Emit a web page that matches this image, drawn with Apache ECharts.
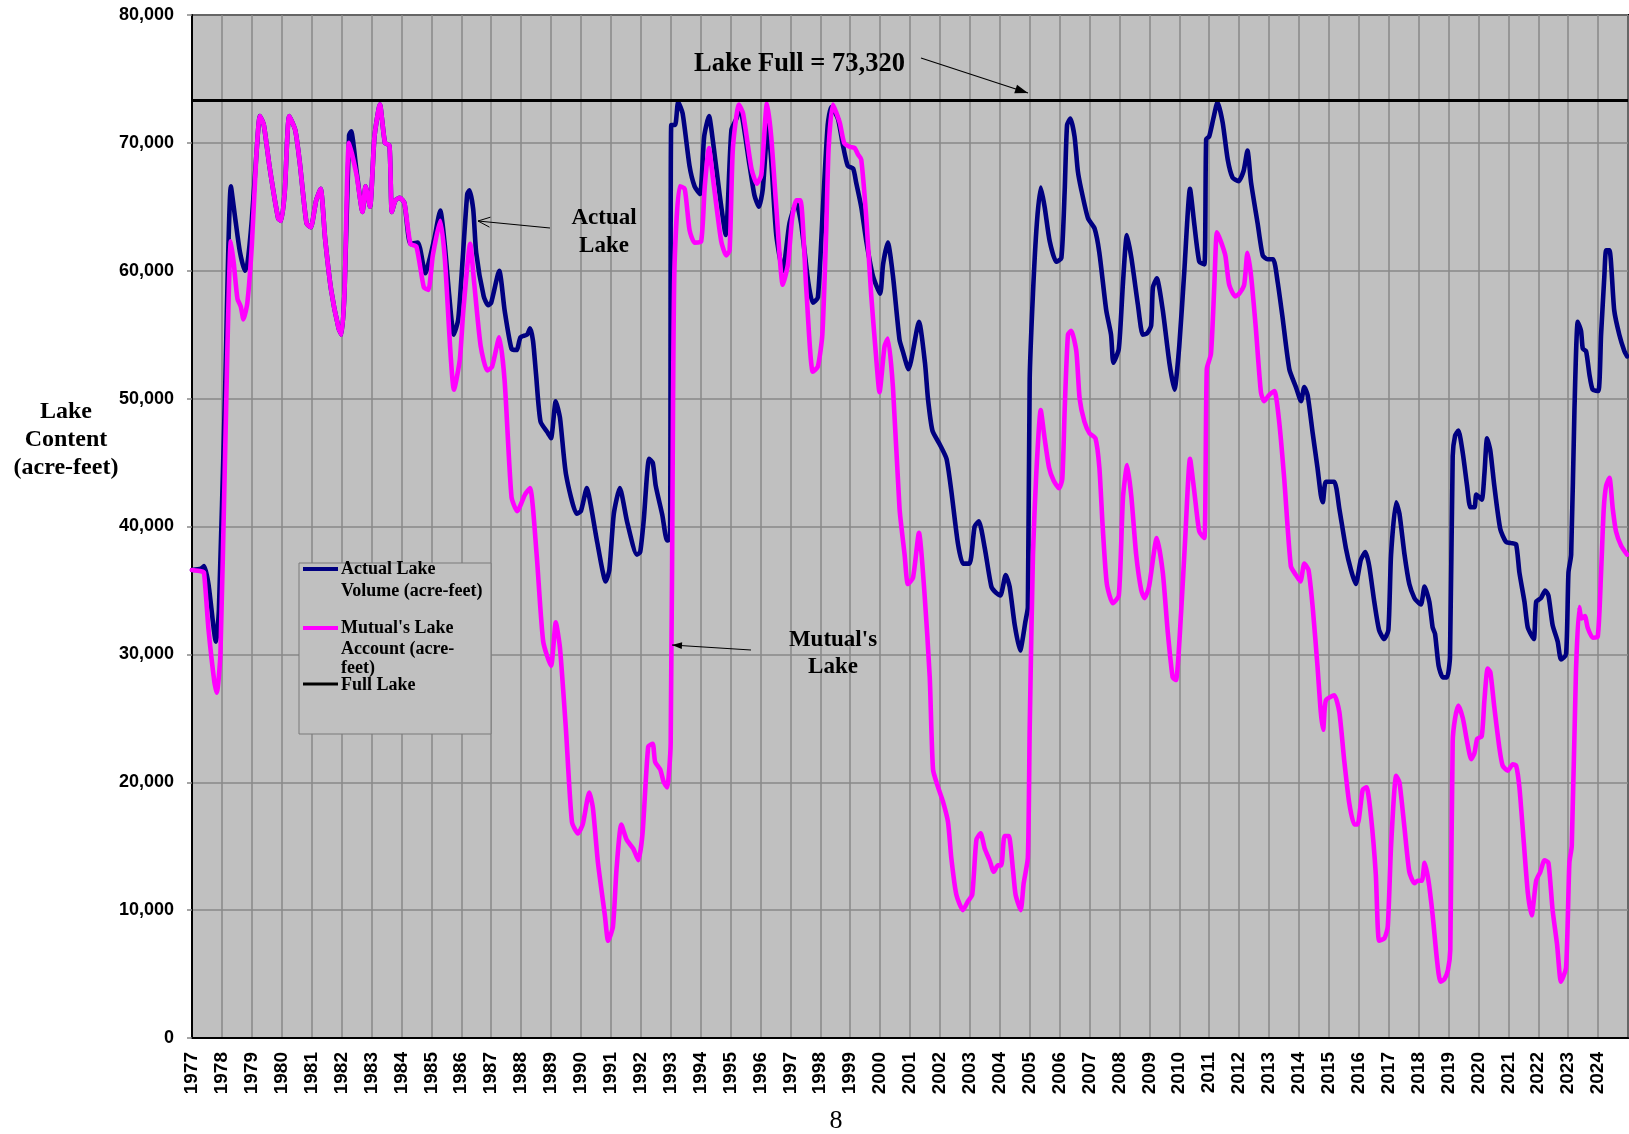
<!DOCTYPE html>
<html>
<head>
<meta charset="utf-8">
<script src="https://cdn.jsdelivr.net/npm/echarts@6/dist/echarts.min.js"></script>
<style>
html,body{margin:0;padding:0;background:#fff;}
#chart{width:1629px;height:1134px;}
</style>
</head>
<body>
<div id="chart"></div>
<script>
// ---- DATA (decimal year, acre-feet) ----
const FULL_LAKE = 73320;
const yearStart = 1977, yearEnd = 2025;
const yTicks = [0, 10000, 20000, 30000, 40000, 50000, 60000, 70000, 80000];

const actualLake = [
[1977.0,36600],[1977.3,36700],[1977.4,36900],[1977.55,35500],[1977.8,31000],[1977.9,33500],
[1978.1,50000],[1978.3,66600],[1978.45,64000],[1978.6,61500],[1978.77,60000],[1978.85,60500],
[1979.0,64000],[1979.15,69000],[1979.27,72100],[1979.4,71400],[1979.6,68000],[1979.88,64100],[1979.98,63900],
[1980.1,66200],[1980.25,72100],[1980.45,71000],[1980.6,68500],[1980.83,63700],[1980.97,63400],
[1981.15,65500],[1981.3,66400],[1981.45,62500],[1981.65,58500],[1981.9,55500],[1982.0,55000],
[1982.1,58500],[1982.25,70600],[1982.32,70900],[1982.5,67800],[1982.7,64600],[1982.8,66600],[1982.95,65000],
[1983.1,70500],[1983.28,73000],[1983.45,70000],[1983.6,69800],[1983.68,64600],[1983.8,65500],[1983.95,65700],
[1984.1,65300],[1984.3,62100],[1984.55,62200],[1984.8,59800],[1984.95,61000],
[1985.1,62500],[1985.3,64700],[1985.45,62000],[1985.6,58000],[1985.75,55000],[1985.9,56200],
[1986.05,61000],[1986.2,66000],[1986.27,66300],[1986.4,64800],[1986.5,61400],[1986.75,58000],[1986.9,57300],
[1987.0,57500],[1987.27,60000],[1987.45,56900],[1987.68,53900],[1987.85,53800],[1987.98,54800],
[1988.2,55000],[1988.3,55500],[1988.4,54500],[1988.5,51900],[1988.65,48200],[1988.9,47300],
[1989.0,46900],[1989.16,49800],[1989.3,48500],[1989.5,44100],[1989.86,41000],
[1990.0,41200],[1990.2,43000],[1990.35,41400],[1990.55,38700],[1990.83,35700],[1990.95,36600],
[1991.1,41000],[1991.3,43000],[1991.55,40300],[1991.87,37800],[1991.98,38000],
[1992.1,40500],[1992.28,45300],[1992.4,45000],[1992.5,43200],[1992.72,40900],[1992.88,38900],[1992.98,39000],
[1993.02,71400],[1993.15,71400],[1993.25,73200],[1993.4,72300],[1993.63,68200],[1993.8,66600],[1993.98,66000],
[1994.12,70500],[1994.28,72100],[1994.42,70000],[1994.64,65900],[1994.84,62800],
[1995.03,71000],[1995.2,71900],[1995.3,72800],[1995.64,68200],[1995.8,65900],[1995.95,65000],
[1996.08,66400],[1996.25,71400],[1996.36,68700],[1996.53,62800],[1996.75,60000],[1996.97,63700],
[1997.2,65300],[1997.36,63700],[1997.6,59100],[1997.75,57500],[1997.92,57900],
[1998.09,65000],[1998.25,71400],[1998.37,72800],[1998.59,71900],[1998.76,69800],[1998.92,68200],
[1999.1,68000],[1999.2,66900],[1999.37,65000],[1999.54,62300],[1999.76,59600],
[2000.0,58200],[2000.1,60500],[2000.26,62200],[2000.43,59600],[2000.65,54600],[2000.76,53700],[2000.95,52300],
[2001.3,56000],[2001.5,52800],[2001.6,50000],[2001.75,47500],
[2002.0,46400],[2002.22,45300],[2002.38,42800],[2002.6,38700],[2002.77,37100],[2002.99,37100],
[2003.16,40000],[2003.3,40400],[2003.5,38300],[2003.72,35300],[2003.88,34800],
[2004.02,34600],[2004.2,36200],[2004.33,35300],[2004.5,32300],[2004.68,30300],[2004.86,32600],[2004.94,33700],
[2005.0,51400],[2005.11,58200],[2005.24,63700],[2005.37,66500],[2005.5,65000],[2005.67,62300],[2005.89,60700],
[2006.06,61000],[2006.17,66200],[2006.25,71400],[2006.36,71900],[2006.5,70500],[2006.61,67800],[2006.72,66400],[2006.95,64100],
[2007.17,63300],[2007.33,61400],[2007.56,56900],[2007.72,55000],[2007.8,52800],[2007.98,53900],
[2008.12,59100],[2008.25,62800],[2008.4,61000],[2008.62,57300],[2008.78,55000],[2008.92,55100],
[2009.06,55700],[2009.12,58700],[2009.25,59400],[2009.45,56900],[2009.67,52800],[2009.84,50700],
[2010.0,54100],[2010.17,60000],[2010.36,66400],[2010.5,63700],[2010.67,60700],[2010.84,60500],
[2010.9,70300],[2011.0,70500],[2011.14,71900],[2011.28,73200],[2011.45,71600],[2011.62,68700],[2011.78,67300],[2011.98,67000],
[2012.15,67800],[2012.28,69400],[2012.4,66900],[2012.62,63700],[2012.79,61200],[2012.95,60900],
[2013.14,60900],[2013.29,59100],[2013.45,56400],[2013.68,52300],[2013.9,50900],
[2014.07,49800],[2014.18,50900],[2014.29,50300],[2014.46,47300],[2014.62,44600],[2014.73,42500],[2014.8,41900],[2014.9,43500],
[2015.18,43500],[2015.35,41400],[2015.57,38300],[2015.74,36600],[2015.9,35500],
[2016.07,37400],[2016.22,38000],[2016.35,36900],[2016.52,34100],[2016.68,31900],[2016.85,31200],[2016.99,31900],
[2017.08,37800],[2017.25,41900],[2017.36,41000],[2017.53,37800],[2017.69,35500],[2017.86,34400],[2017.97,34100],
[2018.08,33900],[2018.2,35300],[2018.36,34100],[2018.47,32100],[2018.55,31600],[2018.67,29100],[2018.81,28200],[2018.95,28200],
[2019.05,29800],[2019.14,45500],[2019.22,47100],[2019.33,47500],[2019.48,45700],[2019.62,43200],[2019.73,41500],[2019.87,41500],[2019.93,42500],
[2020.11,42100],[2020.2,44100],[2020.29,46900],[2020.4,45900],[2020.53,43200],[2020.73,39800],[2020.92,38800],
[2021.09,38700],[2021.26,38600],[2021.37,36400],[2021.54,34100],[2021.65,32100],[2021.85,31200],[2021.93,34100],
[2022.09,34400],[2022.23,35000],[2022.34,34600],[2022.48,32300],[2022.65,31000],[2022.76,29600],[2022.93,30000],
[2023.01,36400],[2023.1,37800],[2023.21,49100],[2023.32,56000],[2023.43,55300],[2023.49,53900],[2023.6,53700],[2023.71,51900],[2023.82,50700],
[2024.01,50600],[2024.1,55000],[2024.21,59600],[2024.27,61600],[2024.38,61600],[2024.54,56900],[2024.71,55000],[2024.88,53700],[2024.97,53300]
];

const mutualAccount = [
[1977.0,36600],[1977.3,36500],[1977.4,36400],[1977.55,32000],[1977.75,27800],[1977.83,27000],[1977.95,30000],
[1978.1,45000],[1978.3,62300],[1978.4,60500],[1978.52,57800],[1978.63,57200],[1978.72,56200],[1978.85,57500],
[1979.0,62000],[1979.15,69000],[1979.27,72100],[1979.4,71400],[1979.6,68000],[1979.88,64100],[1979.98,63900],
[1980.1,66200],[1980.25,72100],[1980.45,71000],[1980.6,68500],[1980.83,63700],[1980.97,63400],
[1981.15,65500],[1981.3,66400],[1981.45,62500],[1981.65,58500],[1981.9,55500],[1982.0,55000],
[1982.1,58500],[1982.25,70000],[1982.5,67500],[1982.7,64600],[1982.8,66600],[1982.95,65000],
[1983.1,70500],[1983.28,73000],[1983.45,70000],[1983.6,69800],[1983.68,64600],[1983.8,65500],[1983.95,65700],
[1984.1,65300],[1984.3,62100],[1984.5,61900],[1984.75,58700],[1984.9,58500],
[1985.05,61200],[1985.3,63900],[1985.45,61000],[1985.76,50700],[1985.95,53000],
[1986.07,56900],[1986.3,62100],[1986.43,59100],[1986.65,54100],[1986.87,52200],
[1987.03,52500],[1987.27,54800],[1987.45,51400],[1987.68,42300],[1987.87,41200],
[1988.13,42500],[1988.3,43000],[1988.52,37800],[1988.74,31000],
[1989.0,29100],[1989.16,32500],[1989.3,30500],[1989.5,24100],[1989.7,16900],[1989.9,16000],
[1990.06,16700],[1990.28,19200],[1990.4,18000],[1990.57,13700],[1990.8,9600],[1990.91,7600],
[1991.07,8700],[1991.19,13200],[1991.35,16700],[1991.53,15500],[1991.75,14800],[1991.92,13900],
[1992.06,16000],[1992.25,22800],[1992.4,23000],[1992.48,21600],[1992.65,21000],[1992.77,20000],[1992.88,19600],
[1993.0,23000],[1993.08,50000],[1993.13,60500],[1993.3,66600],[1993.47,66400],[1993.63,63200],[1993.8,62200],
[1994.02,62300],[1994.14,66600],[1994.28,69600],[1994.41,67300],[1994.69,62300],[1994.86,61200],[1994.97,61600],
[1995.08,69600],[1995.28,73000],[1995.42,72300],[1995.7,68000],[1995.88,66800],
[1996.03,67500],[1996.22,73100],[1996.36,70500],[1996.53,65000],[1996.75,58900],[1996.92,60500],
[1997.06,64100],[1997.2,65500],[1997.34,65500],[1997.53,58700],[1997.75,52100],[1997.92,52500],
[1998.07,55000],[1998.2,63200],[1998.28,69600],[1998.42,73000],[1998.65,71600],[1998.8,70000],[1998.98,69700],
[1999.15,69600],[1999.26,69100],[1999.37,68700],[1999.54,64100],[1999.7,58200],[1999.87,53200],[1999.98,50500],
[2000.15,54100],[2000.26,54700],[2000.43,50900],[2000.65,41400],[2000.82,37800],[2000.93,35500],
[2001.1,36000],[2001.3,39500],[2001.49,34600],[2001.66,28200],[2001.77,21000],[2001.94,19600],
[2002.1,18500],[2002.27,16900],[2002.38,14100],[2002.55,11200],[2002.77,10000],[2002.94,10700],
[2003.08,11200],[2003.22,15500],[2003.36,16000],[2003.5,14800],[2003.66,13900],[2003.8,13000],[2003.94,13500],
[2004.05,13500],[2004.16,15800],[2004.3,15800],[2004.44,13200],[2004.53,11200],[2004.7,10000],[2004.8,12100],[2004.94,14100],
[2005.0,24100],[2005.11,37800],[2005.22,44100],[2005.37,49100],[2005.5,46900],[2005.65,44600],[2005.8,43600],[2005.98,43000],
[2006.09,43700],[2006.17,49100],[2006.28,55000],[2006.39,55300],[2006.56,53700],[2006.67,50000],[2006.83,48200],
[2007.0,47300],[2007.2,46900],[2007.33,44600],[2007.44,40000],[2007.58,35500],[2007.78,34000],[2007.98,34600],
[2008.12,42300],[2008.26,44800],[2008.4,42300],[2008.56,37800],[2008.73,35000],[2008.84,34400],[2008.99,35300],
[2009.25,39100],[2009.45,36400],[2009.61,31900],[2009.78,28200],[2009.89,28000],
[2010.06,33200],[2010.2,39100],[2010.36,45300],[2010.5,42800],[2010.67,39600],[2010.84,39100],
[2010.92,52300],[2011.06,53500],[2011.17,58700],[2011.26,63000],[2011.39,62300],[2011.54,61200],[2011.67,58900],[2011.87,58000],
[2012.0,58200],[2012.17,58900],[2012.28,61400],[2012.4,59600],[2012.56,55500],[2012.73,50500],[2012.84,49800],
[2013.01,50300],[2013.18,50600],[2013.34,48200],[2013.51,43700],[2013.73,36900],[2013.9,36200],
[2014.05,35700],[2014.18,37100],[2014.32,36600],[2014.46,33700],[2014.62,29100],[2014.73,25500],[2014.81,24100],[2014.9,26400],
[2015.18,26800],[2015.35,25500],[2015.51,21800],[2015.68,18400],[2015.85,16700],[2015.96,16700],
[2016.13,19400],[2016.26,19600],[2016.41,17300],[2016.57,12800],[2016.68,7600],[2016.86,7800],[2016.97,8700],
[2017.08,15000],[2017.25,20500],[2017.36,20000],[2017.53,16400],[2017.69,13000],[2017.86,12100],[2017.97,12300],
[2018.11,12300],[2018.2,13700],[2018.33,12300],[2018.47,9600],[2018.62,6000],[2018.73,4400],[2018.86,4600],[2018.98,5300],
[2019.06,6900],[2019.14,23200],[2019.22,25000],[2019.33,26000],[2019.48,25000],[2019.62,23200],[2019.76,21800],[2019.87,22300],[2019.96,23400],
[2020.11,23600],[2020.2,26400],[2020.31,28900],[2020.4,28600],[2020.53,25900],[2020.7,22700],[2020.81,21300],[2020.98,20900],
[2021.15,21400],[2021.26,21300],[2021.37,19600],[2021.51,15500],[2021.65,11400],[2021.78,9600],[2021.93,12300],
[2022.07,13000],[2022.21,13900],[2022.34,13700],[2022.48,10000],[2022.63,7300],[2022.76,4400],[2022.93,5500],
[2023.04,13700],[2023.12,15000],[2023.26,28600],[2023.37,33700],[2023.45,32800],[2023.56,33000],[2023.65,32100],[2023.82,31300],
[2023.99,31400],[2024.1,36400],[2024.19,41400],[2024.27,43200],[2024.38,43800],[2024.49,41400],[2024.6,39600],[2024.77,38500],[2024.97,37800]
];

const fullLakeLine = [[yearStart, FULL_LAKE], [yearEnd, FULL_LAKE]];

const seriesNames = ["Actual Lake Volume (acre-feet)", "Mutual's Lake Account (acre-feet)", "Full Lake"];

// ---- CHART ----
const SERIF = '"Liberation Serif", "Times New Roman", serif';
const SANS = '"Liberation Sans", Arial, sans-serif';
const chart = echarts.init(document.getElementById('chart'), null, {renderer: 'canvas'});

function arrowHead(tip, from, len, half, filled) {
  const dx = tip[0] - from[0], dy = tip[1] - from[1];
  const L = Math.sqrt(dx*dx + dy*dy), ux = dx/L, uy = dy/L;
  const bx = tip[0] - ux*len, by = tip[1] - uy*len;
  const p1 = [bx - uy*half, by + ux*half], p2 = [bx + uy*half, by - ux*half];
  if (filled) {
    return {type:'polygon', shape:{points:[tip, p1, p2]}, style:{fill:'#000'}, z:100};
  }
  return {type:'polyline', shape:{points:[p1, tip, p2]}, style:{stroke:'#000', lineWidth:1, fill:null}, z:100};
}
function arrow(from, tip, len, half, filled) {
  return [
    {type:'line', shape:{x1:from[0], y1:from[1], x2:tip[0], y2:tip[1]}, style:{stroke:'#000', lineWidth:1.2}, z:100},
    arrowHead(tip, from, len, half, filled)
  ];
}
function txt(x, y, text, font, align) {
  return {type:'text', z:100, style:{x:x, y:y, text:text, font:font, fill:'#000', align:align||'center', verticalAlign:'middle'}};
}

const titleFont = 'bold 24px ' + SERIF;
const annFont = 'bold 23px ' + SERIF;
const legFont = 'bold 18px ' + SERIF;
const graphics = [].concat(
  [txt(66, 412, 'Lake', titleFont), txt(66, 440, 'Content', titleFont), txt(66, 468, '(acre-feet)', titleFont)],
  [txt(694, 64, 'Lake Full = 73,320', 'bold 26.5px ' + SERIF, 'left')],
  arrow([921, 58], [1028, 93], 13, 4.5, true),
  [txt(604, 218, 'Actual', annFont), txt(604, 246, 'Lake', annFont)],
  arrow([550, 228], [478, 221], 12, 5, false),
  [txt(833, 640, "Mutual's", annFont), txt(833, 667, 'Lake', annFont)],
  arrow([751, 650], [672, 645], 10, 3.5, true),
  [txt(836, 1121, '8', '26px ' + SERIF)],
  [
    {type:'rect', z:90, shape:{x:299, y:563, width:192, height:171}, style:{fill:'#C0C0C0', stroke:'#7a7a7a', lineWidth:1}},
    {type:'line', z:100, shape:{x1:303, y1:569, x2:338, y2:569}, style:{stroke:'#000080', lineWidth:4}},
    {type:'line', z:100, shape:{x1:303, y1:628, x2:338, y2:628}, style:{stroke:'#FF00FF', lineWidth:4}},
    {type:'line', z:100, shape:{x1:303, y1:684, x2:338, y2:684}, style:{stroke:'#000', lineWidth:3}},
    txt(341, 569, 'Actual Lake', legFont, 'left'),
    txt(341, 591, 'Volume (acre-feet)', legFont, 'left'),
    txt(341, 628, "Mutual's Lake", legFont, 'left'),
    txt(341, 649, 'Account (acre-', legFont, 'left'),
    txt(341, 668, 'feet)', legFont, 'left'),
    txt(341, 685, 'Full Lake', legFont, 'left')
  ]
);

chart.setOption({
  animation: false,
  backgroundColor: '#ffffff',
  grid: {left:192, top:15, width:1436, height:1023, show:true, backgroundColor:'#C0C0C0', borderColor:'#000', borderWidth:2, containLabel:false},
  xAxis: {
    type:'value', min:yearStart, max:yearEnd, interval:1,
    axisLine:{show:true, onZero:false, lineStyle:{color:'#000', width:2}},
    axisTick:{show:false},
    splitLine:{show:true, lineStyle:{color:'#888888', width:1.5}},
    axisLabel:{rotate:90, margin:14, fontSize:19, fontWeight:'bold', fontFamily:SANS, color:'#000',
      showMaxLabel:false, formatter:function(v){ return v < yearEnd ? String(v) : ''; }}
  },
  yAxis: {
    type:'value', min:yTicks[0], max:yTicks[yTicks.length-1], interval:10000,
    axisLine:{show:true, lineStyle:{color:'#000', width:2}},
    axisTick:{show:true, length:5, lineStyle:{color:'#888888', width:1.5}},
    splitLine:{show:true, lineStyle:{color:'#888888', width:1.5}},
    axisLabel:{margin:18, fontSize:18, fontWeight:'bold', fontFamily:SANS, color:'#000',
      formatter:function(v){ return v.toLocaleString('en-US'); }}
  },
  series: [
    {name:seriesNames[0], type:'line', data:actualLake, showSymbol:false, smooth:0.2, z:3,
     lineStyle:{color:'#000080', width:4.6, join:'round', cap:'round'}},
    {name:seriesNames[1], type:'line', data:mutualAccount, showSymbol:false, smooth:0.2, z:4,
     lineStyle:{color:'#FF00FF', width:4.6, join:'round', cap:'round'}},
    {name:seriesNames[2], type:'line', data:fullLakeLine, showSymbol:false, z:5,
     lineStyle:{color:'#000', width:3}}
  ],
  graphic: graphics
});
</script>
</body>
</html>
